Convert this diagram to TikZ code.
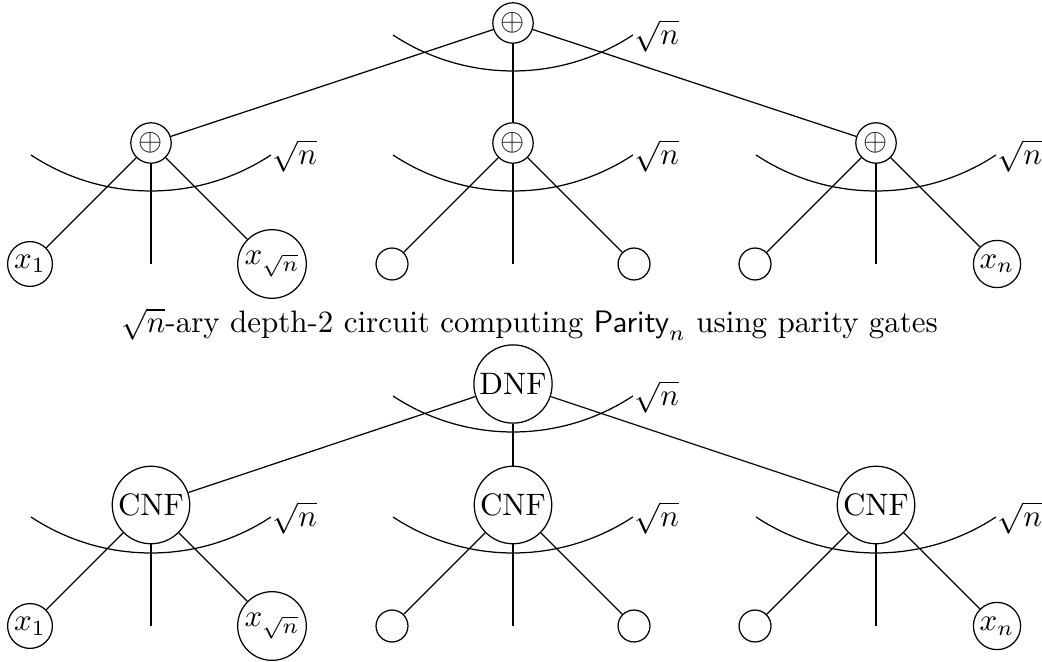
\documentclass[tikz,border=0pt]{standalone}
\begin{document}
\begin{tikzpicture}[x=0.3226pt,y=-0.3226pt,
  gate/.style={circle,draw,inner sep=1pt},
  leaf/.style={circle,draw,inner sep=1pt,minimum size=10.3pt},
  fanlbl/.style={anchor=west,inner sep=0pt}]
\useasboundingbox (0,0) rectangle (1042,661);
% arcs helper: from (c)+(-120,12), radius 218px
\newcommand{\fanarc}[1]{%
  \draw ([shift={(-120,12)}]#1.center) arc[start angle=236.6,end angle=303.4,radius=70.3pt];
  \node[fanlbl] at ([shift={(121,13)}]#1.center) {$\sqrt{n}$};}
\newcommand{\subtree}[6]{%
  % #1 name, #2 x, #3 y, #4 label, #5 left leaf text, #6 right leaf text
  \node[gate] (#1) at (#2,#3) {#4};
  \node[leaf] (#1l) at ([shift={(-121,121)}]#1.center) {#5};
  \node[leaf] (#1r) at ([shift={(121,121)}]#1.center) {#6};
  \coordinate (#1m) at ([shift={(0,121)}]#1.center);
  \draw (#1) -- (#1l);
  \draw (#1) -- (#1m);
  \draw (#1) -- (#1r);
  \fanarc{#1}}
% ---- top circuit ----
\node[gate] (R) at (513,23) {$\oplus$};
\subtree{A}{151}{143}{$\oplus$}{$x_1$}{$x_{\sqrt{n}}$}
\subtree{B}{513}{143}{$\oplus$}{}{}
\subtree{C}{876}{143}{$\oplus$}{}{$x_n$}
\draw (R) -- (A);
\draw (R) -- (B);
\draw (R) -- (C);
\fanarc{R}
% caption
\node[anchor=base,inner sep=0pt] (cap) at (529.5,333) {$\sqrt{n}$-ary depth-2 circuit computing $\textsf{Parity}_n$ using parity gates};
% ---- bottom circuit ----
\node[gate] (S) at (513,384) {DNF};
\subtree{D}{151}{505}{CNF}{$x_1$}{$x_{\sqrt{n}}$}
\subtree{E}{513}{505}{CNF}{}{}
\subtree{F}{876}{505}{CNF}{}{$x_n$}
\draw (S) -- (D);
\draw (S) -- (E);
\draw (S) -- (F);
\fanarc{S}
\end{tikzpicture}
\end{document}
